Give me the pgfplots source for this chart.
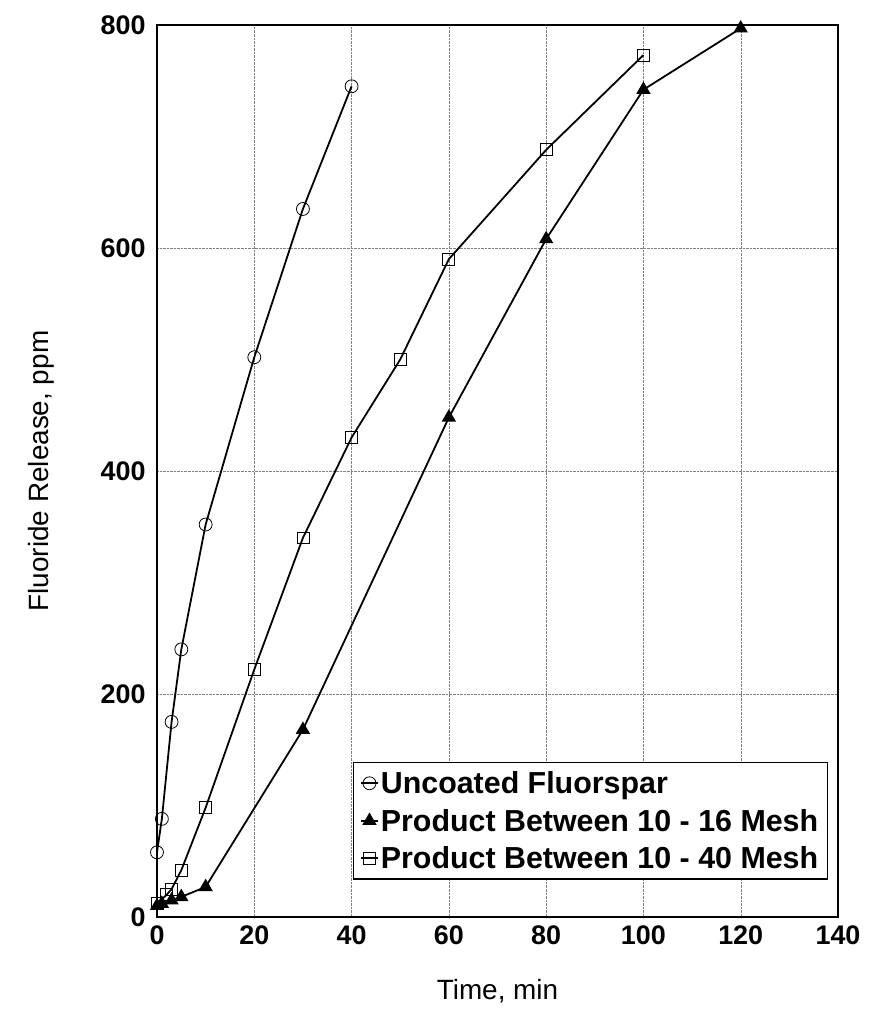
\documentclass[border=0pt]{standalone}
\usepackage{pgfplots}
\pgfplotsset{compat=1.18}
\usepackage{fontspec}
\setmainfont{Liberation Sans}
\begin{document}
\begin{tikzpicture}
\begin{axis}[
  name=ax,
  scale only axis, width=681bp, height=892bp,
  xmin=0, xmax=140, ymin=0, ymax=800,
  xtick={0,20,...,140}, ytick={0,200,...,800},
  grid=major, major grid style={densely dotted, gray},
  axis line style={line width=1.3pt},
  tick style={draw=none},
  ticklabel style={font=\fontsize{27}{32}\selectfont\bfseries},
  xticklabel style={yshift=-5pt},
  yticklabel style={xshift=-8pt},
  /pgf/number format/assume math mode=true,
  xlabel={Time, min}, ylabel={Fluoride Release, ppm},
  label style={font=\fontsize{28}{34}\selectfont},
  xlabel style={yshift=-28pt}, ylabel style={yshift=40pt},
  legend style={at={(0.985,0.042)}, anchor=south east, font=\fontsize{30.5}{36}\selectfont\bfseries, draw=black, line width=1.2pt, inner sep=7pt, row sep=10pt,
    /tikz/every even column/.append style={column sep=0pt}},
  legend image code/.code={\draw[mark repeat=2,mark phase=2,#1] plot coordinates {(0cm,0cm)(0.3cm,0cm)(0.6cm,0cm)};},
  legend cell align=left,
  every axis plot/.append style={line width=1.8pt, black},
]
\addplot[mark=o, mark size=6.5pt, mark options={line width=0.8pt, fill=white}] coordinates {(0,58)(1,88)(3,175)(5,240)(10,352)(20,502)(30,635)(40,745)};
\addlegendentry{Uncoated Fluorspar}
\addplot[mark=triangle*, mark size=6.5pt] coordinates {(0,10)(1,12)(3,15)(5,18)(10,27)(30,168)(60,448)(80,608)(100,742)(120,797)};
\addlegendentry{Product Between 10 - 16 Mesh}
\addplot[mark=square, mark size=6pt, mark options={line width=0.8pt, fill=white}] coordinates {(0,12)(2,20)(3,25)(5,42)(10,98)(20,222)(30,340)(40,430)(50,500)(60,590)(80,688)(100,773)};
\addlegendentry{Product Between 10 - 40 Mesh}
\end{axis}
\pgfresetboundingbox
\path ([xshift=-157bp,yshift=-103bp]ax.south west) rectangle ([xshift=33bp,yshift=25bp]ax.north east);
\end{tikzpicture}
\end{document}
